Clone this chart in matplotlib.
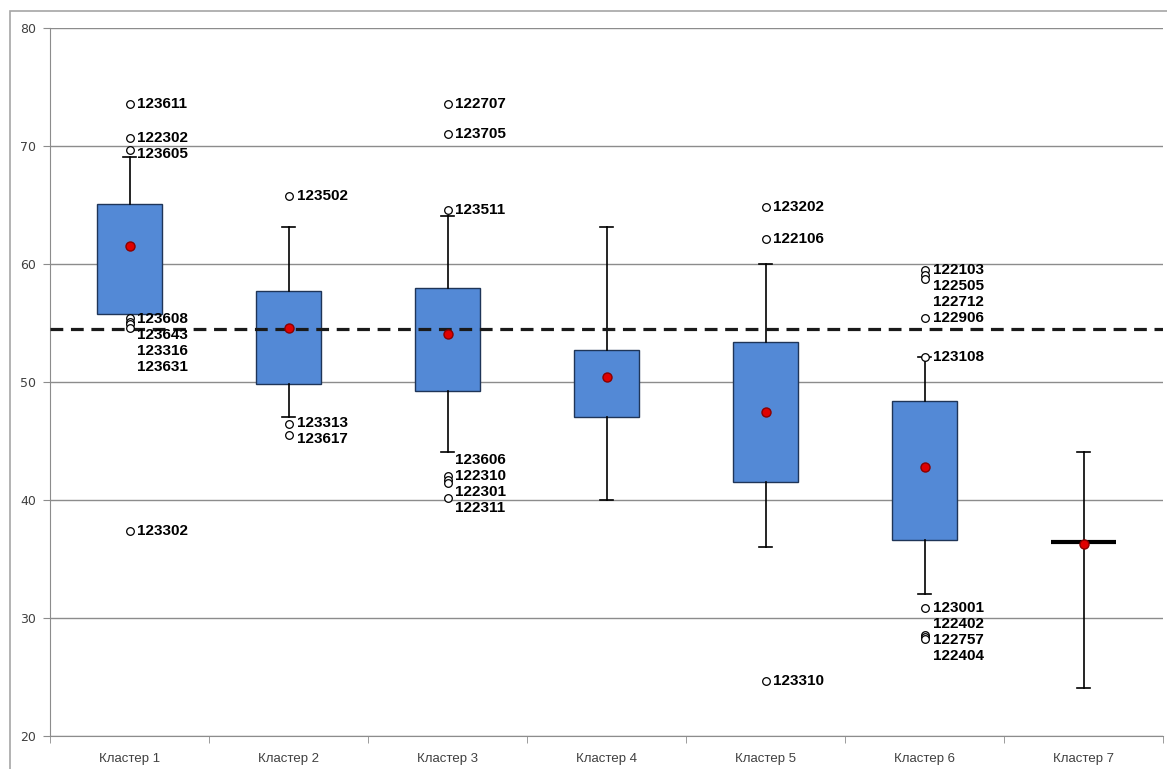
import matplotlib
matplotlib.use('Agg')
import matplotlib.pyplot as plt
from matplotlib.transforms import offset_copy
from matplotlib.patches import Rectangle

clusters = ['Кластер 1', 'Кластер 2', 'Кластер 3', 'Кластер 4',
            'Кластер 5', 'Кластер 6', 'Кластер 7']
q1 = [55.8, 49.8, 49.2, 47.0, 41.5, 36.6, 36.4]
q3 = [65.1, 57.7, 58.0, 52.7, 53.4, 48.4, 36.4]
whis_lo = [55.8, 47.0, 44.1, 40.0, 36.0, 32.0, 24.1]
whis_hi = [69.1, 63.1, 64.1, 63.1, 60.0, 52.1, 44.1]
means = [61.5, 54.6, 54.1, 50.4, 47.5, 42.8, 36.3]
overall_mean = 54.5

outlier_vals = [
    [73.6, 70.7, 69.7, 55.4, 55.1, 54.9, 54.6, 37.4],
    [65.8, 46.4, 45.5],
    [73.6, 71.0, 64.6, 42.0, 41.7, 41.4, 40.2],
    [],
    [64.8, 62.1, 24.7],
    [59.5, 59.1, 58.7, 55.4, 52.1, 30.85, 28.6, 28.4, 28.2],
    [],
]
outlier_ids = [
    ['123611', '122302', '123605', '123608', '123643', '123316', '123631', '123302'],
    ['123502', '123313', '123617'],
    ['122707', '123705', '123511', '123606', '122310', '122301', '122311'],
    [],
    ['123202', '122106', '123310'],
    ['122103', '122505', '122712', '122906', '123108', '123001', '122402', '122757', '122404'],
    [],
]

fig = plt.figure(figsize=(11.67, 7.69), dpi=100)
ax = fig.add_axes([50 / 1167, 33 / 769, 1113 / 1167, 708 / 769])

# outer chart frame
fig.patches.append(Rectangle((10 / 1167, -0.1), 1.2, (769 - 11) / 769 + 0.1,
                             transform=fig.transFigure, fill=False,
                             edgecolor='#a6a6a6', lw=1.2))

stats = []
for i in range(len(clusters)):
    stats.append(dict(label=clusters[i], q1=q1[i], q3=q3[i], med=means[i],
                      mean=means[i], whislo=whis_lo[i], whishi=whis_hi[i],
                      fliers=outlier_vals[i]))

bp = ax.bxp(stats, positions=range(1, len(clusters) + 1), widths=0.415,
            patch_artist=True, showmeans=True, capwidths=0.085,
            boxprops=dict(facecolor='#5389d6', edgecolor='#1f3558', lw=1),
            whiskerprops=dict(color='black', lw=1.2),
            capprops=dict(color='black', lw=1.2),
            medianprops=dict(lw=0),
            meanprops=dict(marker='o', markerfacecolor='#e00000',
                           markeredgecolor='#8a0000', markersize=6.5, zorder=6),
            flierprops=dict(marker='o', markerfacecolor='white',
                            markeredgecolor='black', markersize=5.5,
                            markeredgewidth=0.9, zorder=5),
            zorder=2)

for i, box in enumerate(bp['boxes']):
    # flat boxes show up as a thick black bar
    if q1[i] == q3[i]:
        box.set_edgecolor('black')
        box.set_linewidth(3)
    # no whisker -> no cap
    if whis_lo[i] == q1[i]:
        bp['caps'][2 * i].set_visible(False)
    if whis_hi[i] == q3[i]:
        bp['caps'][2 * i + 1].set_visible(False)

ax.axhline(overall_mean, color='#1a1a1a', lw=2.3, ls=(0, (4, 2.4)), zorder=4)

# outlier labels: groups above the whisker hang down from the top point,
# groups below are centred on their points (kept clear of the whisker)
tr = offset_copy(ax.transData, fig=fig, x=8, y=0, units='dots')
gap = 1.35
for i in range(len(clusters)):
    vals = outlier_vals[i]
    order = sorted(range(len(vals)), key=lambda k: -vals[k])
    groups = []
    for k in order:
        if groups and vals[groups[-1][-1]] - vals[k] < gap:
            groups[-1].append(k)
        else:
            groups.append([k])
    prev = None
    for g in groups:
        top = vals[g[0]]
        if top < whis_lo[i]:
            avg = sum(vals[k] for k in g) / len(g)
            top = min(avg + gap * (len(g) - 1) / 2, whis_lo[i] - 0.5)
        for j, k in enumerate(g):
            y = top - j * gap
            if prev is not None and prev - y < gap:
                y = prev - gap
            ax.text(i + 1, y, outlier_ids[i][k], transform=tr, va='center',
                    ha='left', fontsize=11, fontweight='bold',
                    family='Liberation Sans', color='black', zorder=7)
            prev = y

ax.set_xlim(0.5, len(clusters) + 0.5)
ax.set_ylim(20, 80)
ax.set_yticks(range(20, 81, 10))
ax.yaxis.grid(True, color='#8c8c8c', lw=1)
ax.set_axisbelow(True)

ax.set_xticks(range(1, len(clusters) + 1))
ax.set_xticklabels(clusters, family='Liberation Sans', fontsize=9.5, color='#404040')
ax.set_xticks([i + 0.5 for i in range(len(clusters) + 1)], minor=True)
ax.tick_params(axis='x', which='major', length=0, pad=12)
ax.tick_params(axis='x', which='minor', length=5, color='#8c8c8c')
ax.tick_params(axis='y', length=5, color='#8c8c8c', labelcolor='#404040',
               labelsize=9, pad=5)

for s in ['top', 'right']:
    ax.spines[s].set_visible(False)
for s in ['left', 'bottom']:
    ax.spines[s].set_color('#8c8c8c')

fig.savefig('out.png', dpi=100)
